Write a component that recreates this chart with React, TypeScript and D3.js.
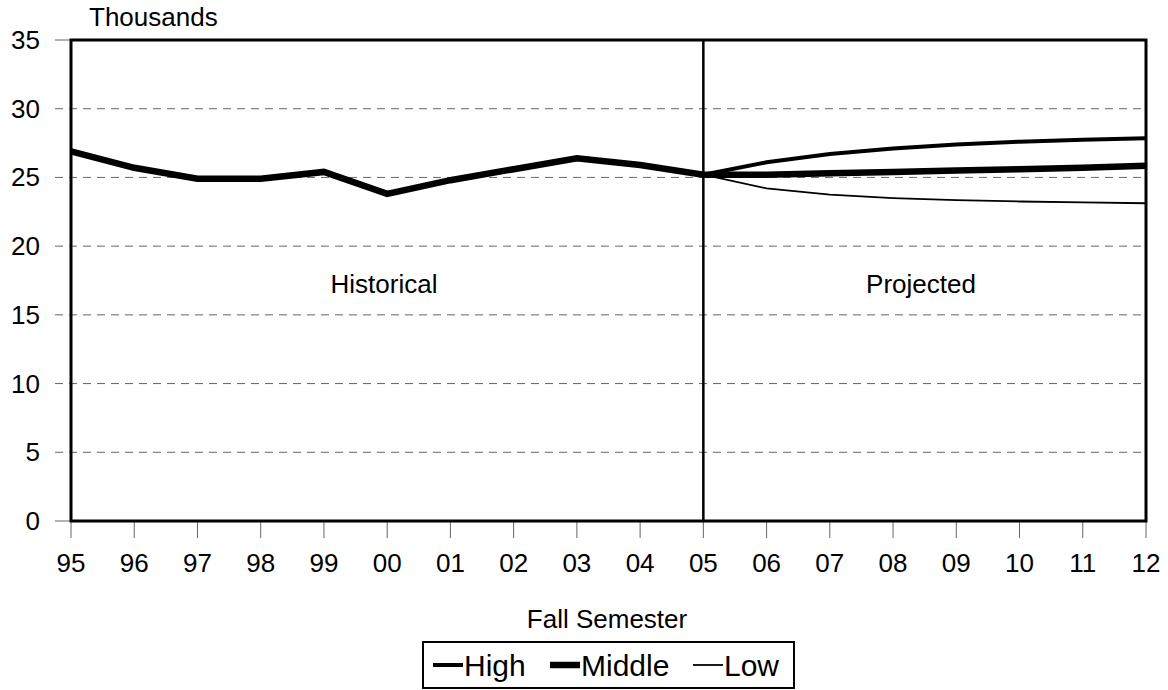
import { useEffect, useRef } from 'react';
import * as d3 from 'd3';

const years = ['95', '96', '97', '98', '99', '00', '01', '02', '03', '04', '05', '06', '07', '08', '09', '10', '11', '12'];
const historical = [26.9, 25.7, 24.9, 24.9, 25.4, 23.8, 24.8, 25.6, 26.4, 25.9, 25.2];
const high = [25.2, 26.1, 26.7, 27.1, 27.4, 27.6, 27.75, 27.85];
const middle = [25.2, 25.2, 25.3, 25.4, 25.5, 25.6, 25.7, 25.85];
const low = [25.2, 24.2, 23.75, 23.5, 23.35, 23.25, 23.18, 23.12];
const yTicks = [0, 5, 10, 15, 20, 25, 30, 35];

const FONT = '"Liberation Sans", Arial, sans-serif';

export default function App() {
  const svgRef = useRef<SVGSVGElement>(null);

  useEffect(() => {
    if (!svgRef.current) return;
    const svg = d3.select(svgRef.current);
    svg.selectAll('*').remove();

    const left = 71, right = 1146, top = 40, bottom = 521;

    const x = d3.scalePoint<string>().domain(years).range([left, right]);
    const y = d3.scaleLinear().domain([0, 35]).range([bottom, top]);

    // grid
    svg.append('g')
      .selectAll('line')
      .data(yTicks.filter(t => t > 0 && t < 35))
      .enter().append('line')
      .attr('x1', 55).attr('x2', right)
      .attr('y1', d => y(d)).attr('y2', d => y(d))
      .attr('stroke', '#666').attr('stroke-width', 1)
      .attr('stroke-dasharray', '8,6');

    // y ticks + labels
    const yAxis = svg.append('g');
    yAxis.selectAll('line').data([0, 35]).enter().append('line')
      .attr('x1', 55).attr('x2', left)
      .attr('y1', d => y(d)).attr('y2', d => y(d))
      .attr('stroke', '#666').attr('stroke-width', 1);
    yAxis.selectAll('text').data(yTicks).enter().append('text')
      .attr('x', 40).attr('y', d => y(d) + 9)
      .attr('text-anchor', 'end')
      .style('font-family', FONT).style('font-size', '26px')
      .text(d => d);

    // x ticks + labels
    const xAxis = svg.append('g');
    xAxis.selectAll('line').data(years).enter().append('line')
      .attr('x1', d => x(d)!).attr('x2', d => x(d)!)
      .attr('y1', bottom).attr('y2', bottom + 17)
      .attr('stroke', '#666').attr('stroke-width', 1);
    xAxis.selectAll('text').data(years).enter().append('text')
      .attr('x', d => x(d)!).attr('y', 572)
      .attr('text-anchor', 'middle')
      .style('font-family', FONT).style('font-size', '26px')
      .text(d => d);

    // frame
    svg.append('rect')
      .attr('x', left).attr('y', top)
      .attr('width', right - left).attr('height', bottom - top)
      .attr('fill', 'none').attr('stroke', '#000').attr('stroke-width', 3);

    // divider
    svg.append('line')
      .attr('x1', x('05')!).attr('x2', x('05')!).attr('y1', top).attr('y2', bottom)
      .attr('stroke', '#000').attr('stroke-width', 2.5);

    const line = d3.line<number>()
      .x((_d, i) => x(years[i])!)
      .y(d => y(d));
    const projLine = d3.line<number>()
      .x((_d, i) => x(years[i + 10])!)
      .y(d => y(d));

    svg.append('path').attr('d', line(historical))
      .attr('fill', 'none').attr('stroke', '#000').attr('stroke-width', 6.5);
    svg.append('path').attr('d', projLine(low))
      .attr('fill', 'none').attr('stroke', '#000').attr('stroke-width', 1.8);
    svg.append('path').attr('d', projLine(middle))
      .attr('fill', 'none').attr('stroke', '#000').attr('stroke-width', 6.5);
    svg.append('path').attr('d', projLine(high))
      .attr('fill', 'none').attr('stroke', '#000').attr('stroke-width', 4);

    // region labels
    svg.append('text').attr('x', 384).attr('y', 293).attr('text-anchor', 'middle')
      .style('font-family', FONT).style('font-size', '26px').text('Historical');
    svg.append('text').attr('x', 921).attr('y', 293).attr('text-anchor', 'middle')
      .style('font-family', FONT).style('font-size', '26px').text('Projected');

    svg.append('text').attr('x', 89).attr('y', 26)
      .style('font-family', FONT).style('font-size', '26px').text('Thousands');
    svg.append('text').attr('x', 607).attr('y', 628).attr('text-anchor', 'middle')
      .style('font-family', FONT).style('font-size', '26px').text('Fall Semester');

    // legend
    svg.append('rect').attr('x', 423).attr('y', 642).attr('width', 371).attr('height', 46)
      .attr('fill', '#fff').attr('stroke', '#000').attr('stroke-width', 2);
    const legendItems = [
      { name: 'High', w: 4, x: 433 },
      { name: 'Middle', w: 6.5, x: 550 },
      { name: 'Low', w: 1.8, x: 693 },
    ];
    const lg = svg.append('g').selectAll('g').data(legendItems).enter().append('g');
    lg.append('line')
      .attr('x1', d => d.x).attr('x2', d => d.x + 30)
      .attr('y1', 665).attr('y2', 665)
      .attr('stroke', '#000').attr('stroke-width', d => d.w);
    lg.append('text')
      .attr('x', d => d.x + 31).attr('y', 676)
      .style('font-family', FONT).style('font-size', '30px')
      .text(d => d.name);
  }, []);

  return <svg ref={svgRef} width={1168} height={690} style={{ display: 'block', position: 'absolute', left: 0, top: 0 }} />;
}
